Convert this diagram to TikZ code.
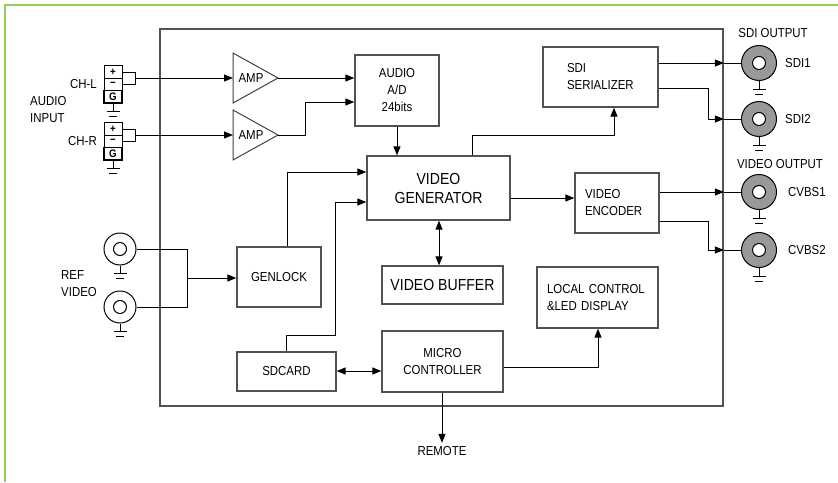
\documentclass[tikz,border=0pt]{standalone}
\usepackage{fontspec}
\setmainfont{Liberation Sans}[FakeStretch=0.88]
\usetikzlibrary{arrows.meta}
\definecolor{framegreen}{RGB}{146,208,80}
\begin{document}
\begin{tikzpicture}[x=1pt,y=-1pt,
  font=\fontsize{13}{17}\selectfont,
  >={Triangle[length=9pt,width=7pt]},
  wire/.style={line width=1pt},
  blk/.style={draw=black!68, line width=1.3pt, inner sep=0pt, align=center},
  big/.style={font=\fontsize{16}{19}\selectfont},
  term/.style={draw, line width=1pt, minimum width=18pt, minimum height=12.3pt, inner sep=0pt, font=\bfseries\fontsize{11}{11}\selectfont},
  lbl/.style={inner sep=0pt, align=left},
  outcon/.style={draw, line width=1pt, fill=black!40, circle, minimum size=35pt, inner sep=0pt},
  refcon/.style={draw, line width=1pt, fill=white, circle, minimum size=32pt, inner sep=0pt},
  incon/.style={draw, line width=1pt, fill=white, circle, minimum size=13pt, inner sep=0pt},
  ampshape/.style={draw=black!75, line width=1pt},
  gnd/.pic={\draw[line width=1pt] (0,0) -- (0,8) (-6.5,8) -- (6.5,8) (-4,13) -- (4,13);},
]
\useasboundingbox (0,0) rectangle (838,482);
\draw[framegreen, line width=2pt] (838,5) -- (5,5) -- (5,482);

% main frame
\node[blk, line width=1.8pt, minimum width=563pt, minimum height=377pt] (main) at (441.5,217.5) {};

% blocks
\node[blk, minimum width=84pt, minimum height=71pt] (adc) at (397,90.5) {AUDIO\\A/D\\24bits};
\node[blk, big, minimum width=143pt, minimum height=64pt] (vg) at (438.5,188) {VIDEO\\GENERATOR};
\node[blk, minimum width=115pt, minimum height=60pt, text width=67pt, align=left] (sdi) at (600.5,77) {SDI\\SERIALIZER};
\node[blk, minimum width=84pt, minimum height=60pt, text width=64pt, align=left] (enc) at (617,203) {VIDEO\\ENCODER};
\node[blk, minimum width=121pt, minimum height=61pt, text width=101pt, align=left] (lc) at (597.5,297.5) {LOCAL CONTROL\\\&LED DISPLAY};
\node[blk, big, minimum width=121pt, minimum height=38pt] (vb) at (442.5,285) {VIDEO BUFFER};
\node[blk, minimum width=121pt, minimum height=61pt] (mcu) at (442.5,361.5) {MICRO\\CONTROLLER};
\node[blk, minimum width=84pt, minimum height=60pt] (gen) at (279,277) {GENLOCK};
\node[blk, minimum width=99pt, minimum height=39pt] (sd) at (286.5,371.5) {SDCARD};

% amplifiers
\draw[ampshape] (233,53) -- (278,78) -- (233,103) -- cycle;
\node (ampL) at (251,78) {AMP};
\coordinate (ampLin) at (233,78);
\coordinate (ampLout) at (278,78);
\draw[ampshape] (233,110) -- (278,135) -- (233,160) -- cycle;
\node (ampR) at (251,135) {AMP};
\coordinate (ampRin) at (233,135);
\coordinate (ampRout) at (278,135);

% audio terminals
\node[term] (lp) at (113,72) {+};
\node[term] (lm) at (113,84.3) {\char"2212};
\node[term, line width=1.6pt] (lg) at (113,96.6) {G};
\node[term] (rp) at (113,129) {+};
\node[term] (rm) at (113,141.3) {\char"2212};
\node[term, line width=1.6pt] (rg) at (113,153.6) {G};
\pic at (lg.south) {gnd};
\pic at (rg.south) {gnd};
\draw[wire] (lp.east) -- ++(13,0) |- (lm.east);
\draw[wire] (rp.east) -- ++(13,0) |- (rm.east);
\coordinate (lmid) at (135,78);
\coordinate (rmid) at (135,135);
\draw[wire,->] (lmid) -- (ampLin);
\draw[wire,->] (rmid) -- (ampRin);

\node[lbl, anchor=west] (ai) at (30,110) {AUDIO\\INPUT};
\node[lbl, anchor=east] (chl) at (97,84) {CH-L};
\node[lbl, anchor=east] (chr) at (97,141) {CH-R};

% amp to ADC
\draw[wire,->] (ampLout) -- (ampLout -| adc.west);
\coordinate (r2) at (305,102);
\draw[wire,->] (ampRout) -| (r2) -- (r2 -| adc.west);
\draw[wire,->] (adc.south) -- (adc.south |- vg.north);

% genlock / sdcard to VG
\coordinate (g1) at (287,172);
\draw[wire,->] (g1 |- gen.north) -- (g1) -- (g1 -| vg.west);
\coordinate (s1) at (286,335);
\coordinate (s2) at (335,202);
\draw[wire,->] (s1 |- sd.north) -- (s1) -| (s2) -- (s2 -| vg.west);

% VG to SDI serializer and encoder
\coordinate (v1) at (472,135);
\coordinate (v2) at (614,135);
\draw[wire,->] (v1 |- vg.north) -- (v1) -- (v2) -- (v2 |- sdi.south);
\coordinate (e1) at (510,198);
\draw[wire,->] (vg.east |- e1) -- (e1 -| enc.west);

% VG <-> buffer
\coordinate (b1) at (439,240);
\draw[wire,<->] (vg.south -| b1) -- (vb.north -| b1);

% SD <-> MCU, MCU -> LC, MCU -> remote
\coordinate (m1) at (360,371);
\draw[wire,<->] (sd.east |- m1) -- (mcu.west |- m1);
\coordinate (m2) at (598,367);
\draw[wire,->] (mcu.east |- m2) -- (m2) -- (m2 |- lc.south);
\node (rem) at (442,451) {REMOTE};
\draw[wire,->] (mcu.south -| rem) -- (rem.north);

% REF video inputs
\node[refcon] (ref1) at (120,249) {};
\node[refcon] (ref2) at (120,307) {};
\pic at (ref1.south) {gnd};
\pic at (ref2.south) {gnd};
\coordinate (j) at (187,278);
\draw[wire] (ref1) -| (j);
\draw[wire] (ref2) -| (j);
\draw[wire,->] (j) -- (j -| gen.west);
\node[incon] (ref1i) at (ref1) {};
\node[incon] (ref2i) at (ref2) {};
\node[lbl, anchor=west] (rv) at (61,283.5) {REF\\VIDEO};

% output connectors
\node[outcon] (o1) at (759,63) {};
\node[outcon] (o2) at (759,119) {};
\node[outcon] (o3) at (759,192) {};
\node[outcon] (o4) at (759,250) {};
\pic at (o1.south) {gnd};
\pic at (o2.south) {gnd};
\pic at (o3.south) {gnd};
\pic at (o4.south) {gnd};

\draw[wire,->] (sdi.east |- o1) -- (o1 -| main.east);
\draw[wire] (o1 -| main.east) -- (o1);
\coordinate (k1) at (708,88);
\draw[wire,->] (sdi.east |- k1) -- (k1) |- (o2 -| main.east);
\draw[wire] (o2 -| main.east) -- (o2);
\draw[wire,->] (enc.east |- o3) -- (o3 -| main.east);
\draw[wire] (o3 -| main.east) -- (o3);
\coordinate (k2) at (708,221);
\draw[wire,->] (enc.east |- k2) -- (k2) |- (o4 -| main.east);
\draw[wire] (o4 -| main.east) -- (o4);

\node[incon] (o1i) at (o1) {};
\node[incon] (o2i) at (o2) {};
\node[incon] (o3i) at (o3) {};
\node[incon] (o4i) at (o4) {};

\node (so) at (773,33) {SDI OUTPUT};
\node[lbl, anchor=west] (l1) at (785,63) {SDI1};
\node[lbl, anchor=west] (l2) at (785,119) {SDI2};
\node (vo) at (780,164) {VIDEO OUTPUT};
\node[lbl, anchor=west] (l3) at (788,192) {CVBS1};
\node[lbl, anchor=west] (l4) at (788,250) {CVBS2};
\end{tikzpicture}
\end{document}
